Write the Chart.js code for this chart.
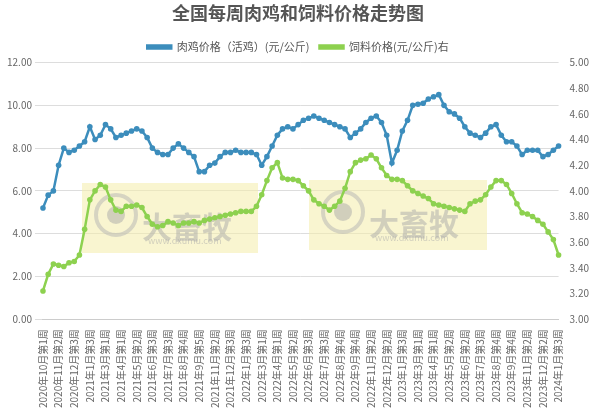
<!DOCTYPE html>
<html><head><meta charset="utf-8">
<script src="https://cdn.jsdelivr.net/npm/chart.js"></script>
<style>html,body{margin:0;padding:0;background:#fff}#w{width:598px;height:414px}</style>
</head><body><div id="w"><canvas id="c"></canvas></div>
<script>
const tickLabels=["2020年10月第1周","2020年11月第2周","2020年12月第3周","2021年1月第3周","2021年3月第1周","2021年4月第1周","2021年5月第2周","2021年6月第3周","2021年7月第3周","2021年8月第4周","2021年9月第5周","2021年11月第2周","2021年12月第3周","2022年1月第3周","2022年3月第1周","2022年4月第1周","2022年5月第2周","2022年6月第3周","2022年7月第3周","2022年8月第4周","2022年9月第4周","2022年11月第2周","2022年12月第2周","2023年1月第3周","2023年3月第1周","2023年4月第1周","2023年5月第2周","2023年6月第2周","2023年7月第3周","2023年8月第4周","2023年9月第4周","2023年11月第2周","2023年12月第2周","2024年1月第3周"];
const chicken=[5.2,5.8,6.0,7.2,8.0,7.8,7.9,8.1,8.3,9.0,8.4,8.6,9.1,8.9,8.5,8.6,8.7,8.8,8.9,8.8,8.5,8.0,7.8,7.7,7.7,8.0,8.2,8.0,7.8,7.6,6.9,6.9,7.2,7.3,7.6,7.8,7.8,7.9,7.8,7.8,7.8,7.7,7.2,7.6,8.1,8.6,8.9,9.0,8.9,9.1,9.3,9.4,9.5,9.4,9.3,9.2,9.1,9.0,8.9,8.5,8.7,8.9,9.2,9.4,9.5,9.2,8.6,7.3,7.9,8.8,9.3,10.0,10.05,10.1,10.3,10.4,10.5,10.0,9.7,9.6,9.4,9.0,8.7,8.6,8.5,8.7,9.0,9.1,8.6,8.3,8.3,8.1,7.7,7.9,7.9,7.9,7.6,7.7,7.9,8.1];
const feed=[3.22,3.35,3.43,3.42,3.41,3.44,3.45,3.50,3.70,3.93,4.00,4.05,4.03,3.93,3.85,3.84,3.88,3.88,3.89,3.87,3.80,3.74,3.72,3.73,3.76,3.75,3.73,3.75,3.75,3.76,3.75,3.77,3.78,3.79,3.80,3.81,3.82,3.83,3.84,3.84,3.84,3.88,3.97,4.08,4.18,4.22,4.10,4.09,4.09,4.08,4.04,4.00,3.93,3.90,3.88,3.85,3.88,3.92,4.02,4.15,4.22,4.24,4.25,4.28,4.25,4.18,4.12,4.09,4.09,4.08,4.04,4.00,3.98,3.96,3.94,3.90,3.89,3.88,3.87,3.86,3.85,3.84,3.90,3.92,3.93,3.97,4.03,4.08,4.08,4.05,3.98,3.90,3.83,3.82,3.80,3.77,3.74,3.68,3.62,3.50];
const step=3;
const cats=chicken.map((_,i)=>i%step===0?tickLabels[i/step]:"");
const f="'Noto Sans CJK SC','Noto Sans',sans-serif";
Chart.defaults.font.family=f;
const wm={id:'wm',beforeDatasetsDraw(ch){const c=ch.ctx;c.save();
[[82,183,176,70],[309,180,178,70]].forEach(([x,y,w,h])=>{c.fillStyle='rgba(244,236,170,0.55)';c.fillRect(x,y,w,h);
c.strokeStyle='rgba(180,180,180,0.5)';c.lineWidth=4;c.beginPath();c.arc(x+34,y+32,20,0,Math.PI*2);c.stroke();
c.fillStyle='rgba(170,170,170,0.5)';c.beginPath();c.arc(x+34,y+32,9,0,Math.PI*2);c.fill();
c.font="bold 30px "+f;c.fillStyle='rgba(170,170,170,0.5)';c.fillText('大畜牧',x+60,y+44);
c.font="9px "+f;c.fillText('www.dxumu.com',x+66,y+58);});c.restore();}};
new Chart(document.getElementById('c'),{type:'line',
data:{labels:cats,datasets:[
{label:'肉鸡价格（活鸡）(元/公斤)',data:chicken,yAxisID:'y',borderColor:'#3C8DBC',backgroundColor:'#3C8DBC',borderWidth:2.5,pointRadius:2.8,pointBorderWidth:0,tension:0},
{label:'饲料价格(元/公斤)右',data:feed,yAxisID:'y1',borderColor:'#8DD14F',backgroundColor:'#8DD14F',borderWidth:2.5,pointRadius:2.8,pointBorderWidth:0,tension:0}]},
plugins:[wm],
options:{responsive:true,maintainAspectRatio:false,animation:false,
layout:{padding:{left:4,right:6,top:2,bottom:4}},
plugins:{title:{display:true,text:'全国每周肉鸡和饲料价格走势图',color:'#555',font:{size:18,weight:'bold'},padding:{top:0,bottom:8}},
legend:{labels:{boxWidth:24,boxHeight:3,color:'#555',font:{size:11}},padding:{bottom:8}},tooltip:{enabled:false}},
scales:{
x:{grid:{display:false},border:{color:'#ccc'},ticks:{autoSkip:false,maxRotation:90,minRotation:90,color:'#666',font:{size:10},padding:2}},
y:{position:'left',min:0,max:12,ticks:{stepSize:2,color:'#666',font:{size:10},callback:v=>v.toFixed(2)},grid:{color:'#ddd'},border:{display:false}},
y1:{position:'right',min:3,max:5,ticks:{stepSize:0.2,color:'#666',font:{size:10},callback:v=>v.toFixed(2)},grid:{display:false},border:{display:false}}
}}});
</script></body></html>
